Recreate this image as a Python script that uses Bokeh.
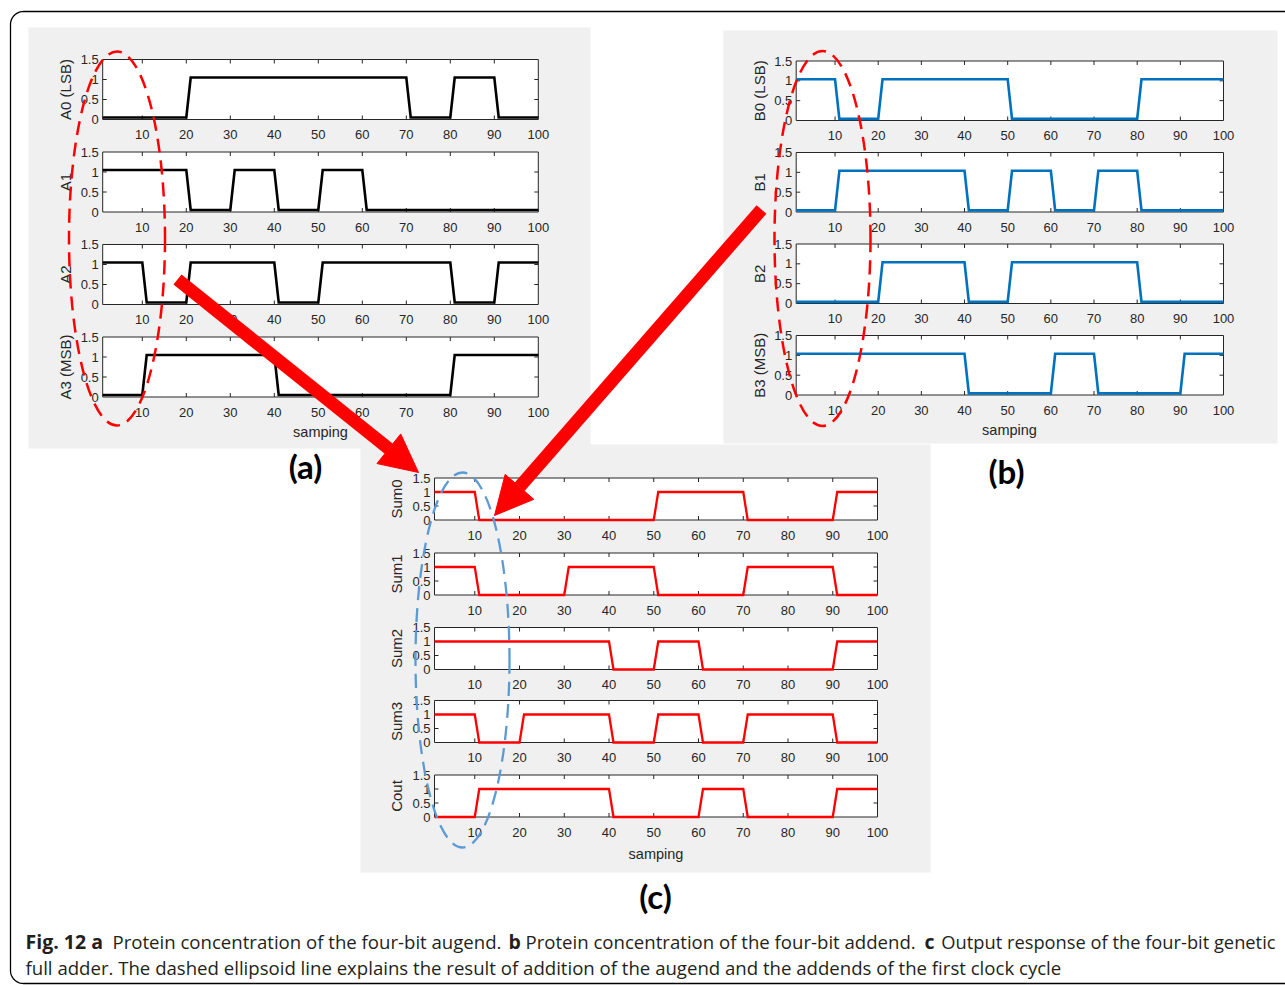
import numpy as np
from bokeh.plotting import figure
from bokeh.models import Range1d, Arrow, NormalHead
from bokeh.core.properties import value
from bokeh.embed import file_html
from bokeh.resources import INLINE

# ---------------- data ----------------
X_TICKS = [10, 20, 30, 40, 50, 60, 70, 80, 90, 100]
X_TICK_LABELS = ["10", "20", "30", "40", "50", "60", "70", "80", "90", "100"]
Y_TICKS = [0, 0.5, 1, 1.5]
Y_TICK_LABELS = ["0", "0.5", "1", "1.5"]
CYCLE_START = [1, 11, 21, 31, 41, 51, 61, 71, 81, 91]
CYCLE_END = [10, 20, 30, 40, 50, 60, 70, 80, 90, 100]

A_NAMES = ["A0 (LSB)", "A1", "A2", "A3 (MSB)"]
A0 = [0, 0, 1, 1, 1, 1, 1, 0, 1, 0]
A1 = [1, 1, 0, 1, 0, 1, 0, 0, 0, 0]
A2 = [1, 0, 1, 1, 0, 1, 1, 1, 0, 1]
A3 = [0, 1, 1, 1, 0, 0, 0, 0, 1, 1]
A_LEVELS = [0.05, 1.05]

B_NAMES = ["B0 (LSB)", "B1", "B2", "B3 (MSB)"]
B0 = [1, 0, 1, 1, 1, 0, 0, 0, 1, 1]
B1 = [0, 1, 1, 1, 0, 1, 0, 1, 0, 0]
B2 = [0, 0, 1, 1, 0, 1, 1, 1, 0, 0]
B3 = [1, 1, 1, 1, 0, 0, 1, 0, 0, 1]
B_LEVELS = [0.04, 1.04]

C_NAMES = ["Sum0", "Sum1", "Sum2", "Sum3", "Cout"]
SUM0 = [1, 0, 0, 0, 0, 1, 1, 0, 0, 1]
SUM1 = [1, 0, 0, 1, 1, 0, 0, 1, 1, 0]
SUM2 = [1, 1, 1, 1, 0, 1, 0, 0, 0, 1]
SUM3 = [1, 0, 1, 1, 0, 1, 0, 1, 1, 0]
COUT = [0, 1, 1, 1, 0, 0, 1, 0, 0, 1]
C_LEVELS = [0.0, 1.0]

CAPTION_1 = [("Fig. 12 a", True), ("Protein concentration of the four-bit augend.", False),
             ("b", True), ("Protein concentration of the four-bit addend.", False),
             ("c", True), ("Output response of the four-bit genetic", False)]
CAPTION_2 = "full adder. The dashed ellipsoid line explains the result of addition of the augend and the addends of the first clock cycle"

# ---------------- canvas ----------------
FX0, FX1, FY0, FY1 = 0, 1285, 0, 985
W, H = FX1 - FX0, FY1 - FY0

p = figure(width=W, height=H, x_range=Range1d(FX0, FX1), y_range=Range1d(FY1, FY0),
           output_backend="svg", toolbar_location=None, x_axis_type=None, y_axis_type=None,
           min_border=0, min_border_left=0, min_border_right=0, min_border_top=0, min_border_bottom=0)
p.grid.visible = False
p.outline_line_color = None
p.background_fill_color = "white"
p.border_fill_color = "white"

GRAY = "#F0F0F0"
AX = "#262626"
TICK_FONT = value("Liberation Sans")

# panel backgrounds
p.quad(left=[28, 723, 360], right=[590, 1277, 930], top=[27, 30, 444], bottom=[448, 443, 872],
       fill_color=GRAY, line_color=None)

# outer rounded frame
r = 13
th1 = np.linspace(np.pi, 1.5 * np.pi, 20)
th2 = np.linspace(0.5 * np.pi, np.pi, 20)
cx1 = list(10 + r + r * np.cos(th1))
cy1 = list(11 + r + r * np.sin(th1))
cx2 = list(10 + r + r * np.cos(th2))
cy2 = list(983 - r + r * np.sin(th2))
p.line(x=[1285] + cx2 + cx1 + [1285], y=[983] + cy2 + cy1 + [11], line_color="black", line_width=1.3)

xr, yr = {}, {}


def waveform(bits, levels):
    xs, ys = [], []
    for s, e, b in zip(CYCLE_START, CYCLE_END, bits):
        xs += [s, e]
        ys += [levels[b], levels[b]]
    return xs, ys


def subplot(key, x0, x1, ytop, ybot, bits, levels, color, lw, name, title_x, name_size):
    sx = (x1 - x0) / 99.0
    sy = (ybot - ytop) / 1.5
    xr[key] = Range1d(1 - (x0 - FX0) / sx, 100 + (FX1 - x1) / sx)
    yr[key] = Range1d(0 - (FY1 - ybot) / sy, 1.5 + (ytop - FY0) / sy)
    kw = dict(x_range_name=key, y_range_name=key)
    p.quad(left=1, right=100, bottom=0, top=1.5, fill_color="white", line_color=AX, line_width=1, **kw)
    tl = 4.0
    xt = X_TICKS[:-1]
    p.segment(x0=xt, x1=xt, y0=[0] * len(xt), y1=[tl / sy] * len(xt), line_color=AX, line_width=1, **kw)
    p.segment(x0=xt, x1=xt, y0=[1.5] * len(xt), y1=[1.5 - tl / sy] * len(xt), line_color=AX, line_width=1, **kw)
    yt = Y_TICKS[1:-1]
    p.segment(x0=[1] * len(yt), x1=[1 + tl / sx] * len(yt), y0=yt, y1=yt, line_color=AX, line_width=1, **kw)
    p.segment(x0=[100] * len(yt), x1=[100 - tl / sx] * len(yt), y0=yt, y1=yt, line_color=AX, line_width=1, **kw)
    xs, ys = waveform(bits, levels)
    p.line(x=xs, y=ys, line_color=color, line_width=lw, line_join="miter", **kw)
    p.text(x=X_TICKS, y=[0] * len(X_TICKS), text=X_TICK_LABELS, y_offset=15, text_align="center",
           text_baseline="middle", text_font=TICK_FONT, text_font_size="13px", text_color=AX, **kw)
    p.text(x=[1] * 4, y=Y_TICKS, text=Y_TICK_LABELS, x_offset=-4, text_align="right",
           text_baseline="middle", text_font=TICK_FONT, text_font_size="13px", text_color=AX, **kw)
    p.text(x=[title_x], y=[(ytop + ybot) / 2], text=[name], angle=np.pi / 2, text_align="center",
           text_baseline="middle", text_font=TICK_FONT, text_font_size=name_size, text_color=AX)


A_TOPS = [59, 151.5, 244, 336.5]
for i, (bits, nm) in enumerate(zip([A0, A1, A2, A3], A_NAMES)):
    subplot(f"a{i}", 102.2, 537.8, A_TOPS[i], A_TOPS[i] + 60, bits, A_LEVELS, "black", 2.6, nm, 65, "15px")

B_TOPS = [60.5, 152, 243.5, 335]
for i, (bits, nm) in enumerate(zip([B0, B1, B2, B3], B_NAMES)):
    subplot(f"b{i}", 795.7, 1223, B_TOPS[i], B_TOPS[i] + 59.5, bits, B_LEVELS, "#0072BD", 2.6, nm, 758.5, "15px")

C_TOPS = [477.5, 552.5, 627, 700, 774.5]
for i, (bits, nm) in enumerate(zip([SUM0, SUM1, SUM2, SUM3, COUT], C_NAMES)):
    subplot(f"c{i}", 434, 877, C_TOPS[i], C_TOPS[i] + 42, bits, C_LEVELS, "#FF0000", 2.3, nm, 396, "15px")

p.extra_x_ranges = xr
p.extra_y_ranges = yr

# x-axis titles
p.text(x=[320, 1009, 655.5], y=[431.5, 429, 853], text=["samping"] * 3, text_align="center",
       text_baseline="middle", text_font=TICK_FONT, text_font_size="14.5px", text_color=AX)

# panel letters
p.text(x=[305, 1006, 655], y=[465, 470, 895], text=["(a)", "(b)", "(c)"], text_align="center",
       text_baseline="middle", text_font=value("Lato"), text_font_style="bold", text_font_size="33px",
       text_color="black")

# dashed ellipses
p.ellipse(x=[116.5, 822], y=[238, 238], width=[96, 96], height=[374, 375], fill_color=None,
          line_color="#FF0000", line_width=2.5, line_dash="14 8")
p.ellipse(x=[462], y=[659.5], width=[94], height=[375], fill_color=None,
          line_color="#5B9BD5", line_width=2.3, line_dash="14 8")

# arrows
for (xs0, ys0, xe, ye) in [(177, 279, 418, 472), (761, 209, 494, 515)]:
    p.add_layout(Arrow(end=NormalHead(size=38, fill_color="#FF0000", line_color="#FF0000"),
                       x_start=xs0, y_start=ys0, x_end=xe, y_end=ye,
                       line_color="#FF0000", line_width=13))

# caption (first line is justified in the reference: segments placed at their positions)
CAP_X = [25, 112, 508, 525, 934, 1275]
CAP_ALIGN = ["left", "left", "left", "left", "right", "right"]
CAP_SIZE = ["19.5px", "18.6px", "19.5px", "18.6px", "19.5px", "18.3px"]
for (txt, bold), cx, al, fs in zip(CAPTION_1, CAP_X, CAP_ALIGN, CAP_SIZE):
    p.text(x=[cx], y=[941], text=[txt], text_align=al, text_baseline="middle",
           text_font=value("Open Sans"), text_font_style="bold" if bold else "normal",
           text_font_size=fs, text_color="#231F20")
p.text(x=[25], y=[967], text=[CAPTION_2], text_align="left", text_baseline="middle",
       text_font=value("Open Sans"), text_font_size="18.6px", text_color="#231F20")

open("out.html", "w").write(file_html(p, INLINE))
